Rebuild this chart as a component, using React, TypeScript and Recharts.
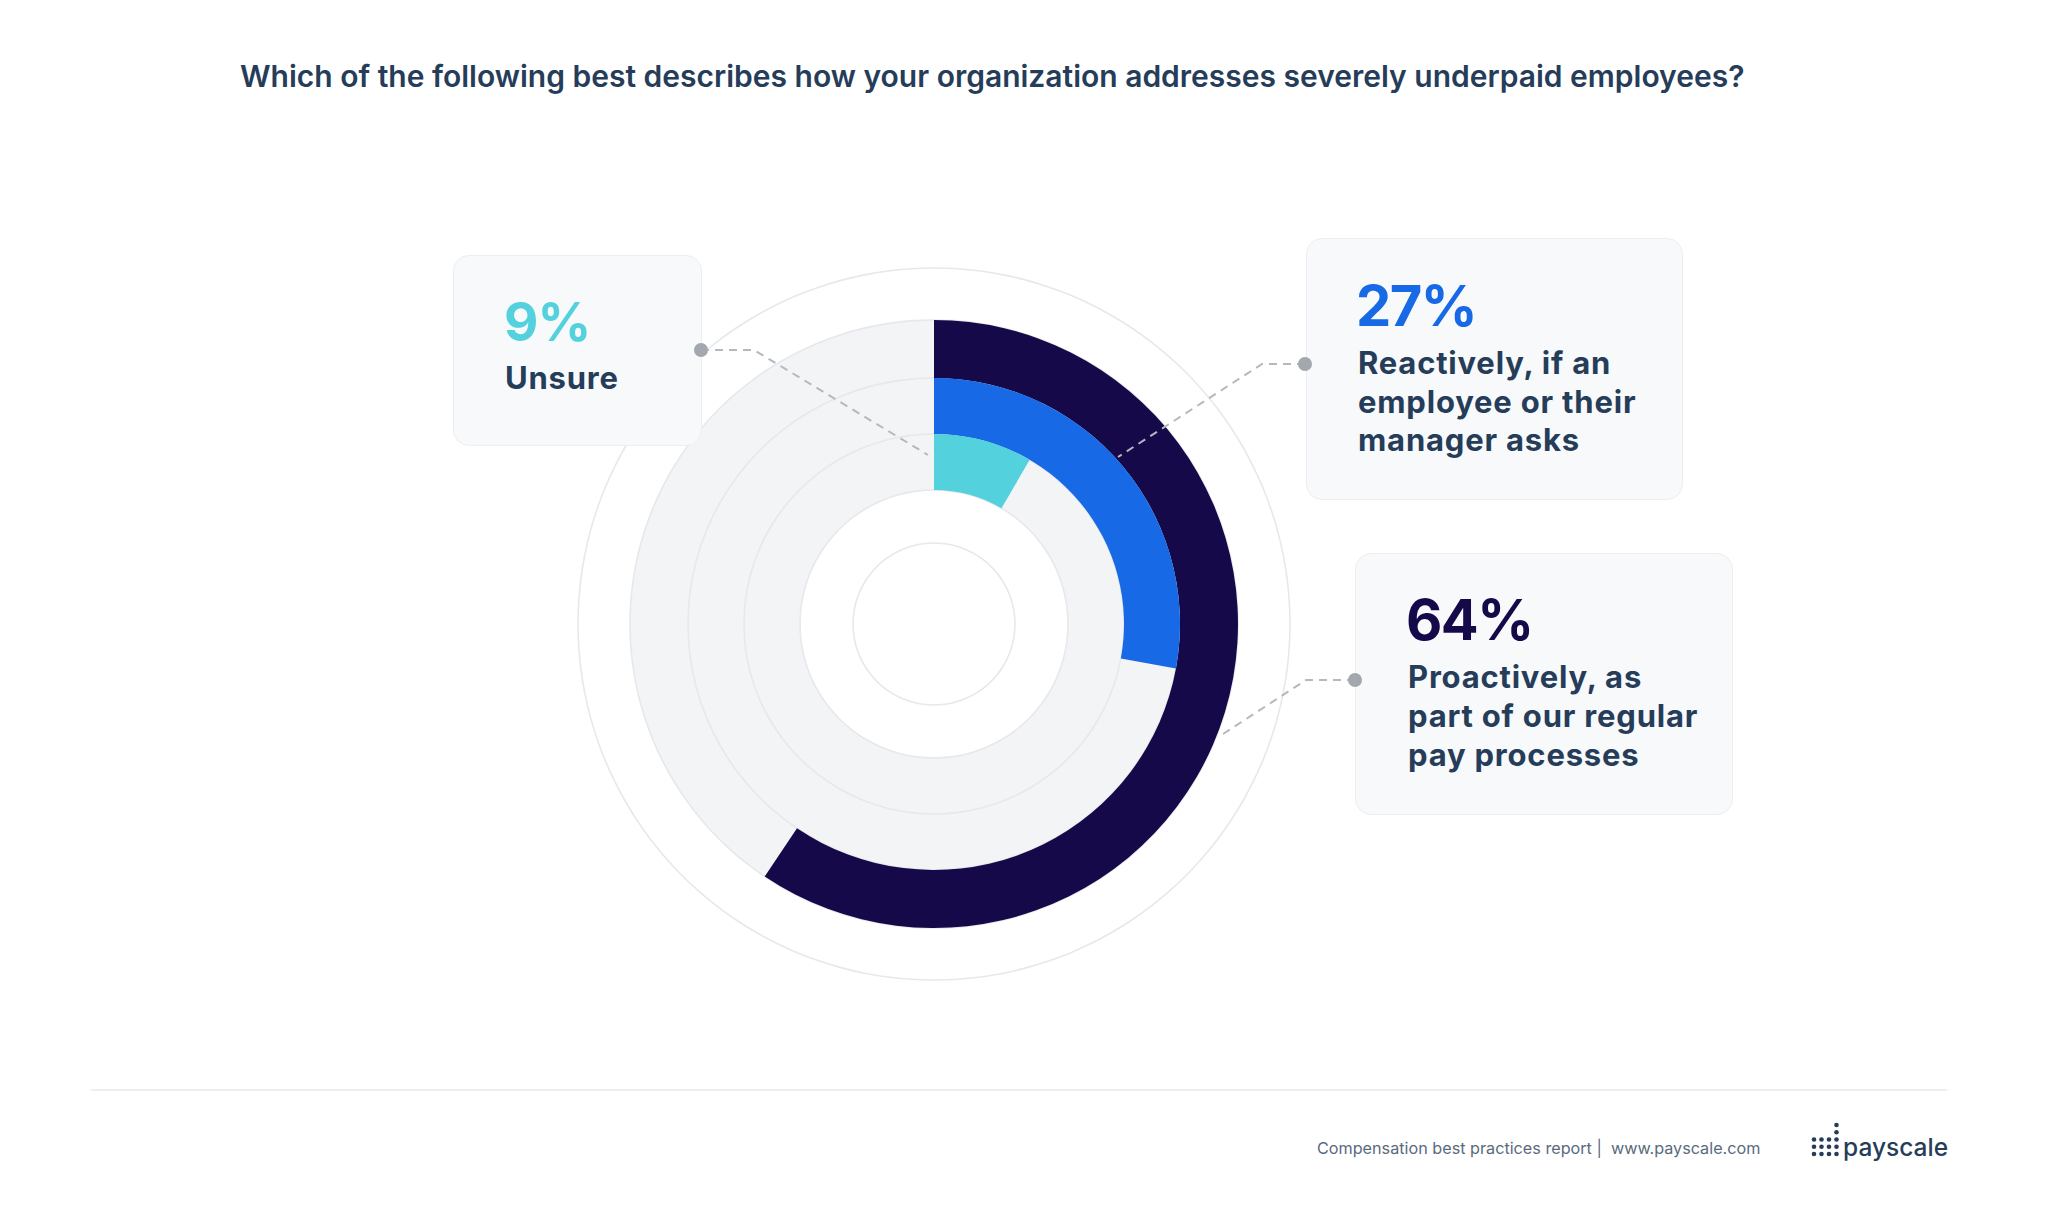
import { PieChart, Pie, Cell } from "recharts";

const categories = [
  "Proactively, as part of our regular pay processes",
  "Reactively, if an employee or their manager asks",
  "Unsure",
];
const shareLabels = ["64%", "27%", "9%"];
// how far round each ring is filled in the picture, in % of a full turn
const sweeps = [59.4, 27.9, 8.4];

const ringColors = ["#16094a", "#1769e6", "#53d2de"];
const ringRadii = [
  [246, 304],
  [190, 246],
  [134, 190],
];
const guideRadii = [81, 134, 190, 246, 304, 356];

const CX = 934;
const CY = 624;
const FONT = "Inter, 'Noto Sans', sans-serif";
const TEXT = "#263d5a";

const full = [{ value: 1 }];

const ringData = sweeps.map((s, i) => [
  { name: categories[i], value: s },
  { name: "rest", value: 100 - s },
]);

// callout boxes: box rect, where the % and the label go, and the leader line
const callouts = [
  {
    box: { left: 1355, top: 553, width: 378, height: 262 },
    pct: { left: 1406, top: 592, size: 56, ls: -1.5 },
    label: { left: 1408, top: 657, size: 31, lh: 39 },
    lines: ["Proactively, as", "part of our regular", "pay processes"],
    path: "M1355 680 L1306 680 L1220 736",
    dot: [1355, 680],
  },
  {
    box: { left: 1306, top: 238, width: 377, height: 262 },
    pct: { left: 1356, top: 278, size: 56, ls: -1.5 },
    label: { left: 1358, top: 344, size: 31, lh: 38.5 },
    lines: ["Reactively, if an", "employee or their", "manager asks"],
    path: "M1305 364 L1262 364 L1118 457",
    dot: [1305, 364],
  },
  {
    box: { left: 453, top: 255, width: 249, height: 191 },
    pct: { left: 504, top: 296, size: 53, ls: -1 },
    label: { left: 505, top: 362, size: 31, lh: 31 },
    lines: ["Unsure"],
    path: "M701 350 L754 350 L928 455",
    dot: [701, 350],
  },
];

function Logo() {
  const cols = [1814, 1821.5, 1829, 1836.5];
  const rows = [1139.5, 1146.8, 1154];
  const dots: number[][] = [];
  cols.forEach((x) => rows.forEach((y) => dots.push([x, y])));
  dots.push([1836.5, 1125]);
  dots.push([1836.5, 1132.2]);
  return (
    <g fill={TEXT}>
      {dots.map(([x, y], i) => (
        <circle key={i} cx={x} cy={y} r={2.3} />
      ))}
    </g>
  );
}

export default function App() {
  return (
    <div
      style={{
        position: "absolute",
        left: 0,
        top: 0,
        width: 2048,
        height: 1216,
        background: "#ffffff",
        fontFamily: FONT,
        overflow: "hidden",
      }}
    >
      <div
        style={{
          position: "absolute",
          left: 240,
          top: 61,
          fontSize: 30,
          lineHeight: "30px",
          fontWeight: 600,
          color: TEXT,
          whiteSpace: "nowrap",
        }}
      >
        Which of the following best describes how your organization addresses
        severely underpaid employees?
      </div>

      <div style={{ position: "absolute", left: 0, top: 0 }}>
        <PieChart
          width={2048}
          height={1216}
          margin={{ top: 0, right: 0, bottom: 0, left: 0 }}
        >
          <Pie
            data={full}
            dataKey="value"
            cx={CX}
            cy={CY}
            innerRadius={134}
            outerRadius={304}
            fill="#f3f4f6"
            stroke="none"
            isAnimationActive={false}
          />
          {guideRadii.map((r) => (
            <Pie
              key={"g" + r}
              data={full}
              dataKey="value"
              cx={CX}
              cy={CY}
              innerRadius={r - 0.8}
              outerRadius={r + 0.8}
              fill="#e6e8ec"
              stroke="none"
              isAnimationActive={false}
            />
          ))}
          {ringData.map((d, i) => (
            <Pie
              key={"r" + i}
              data={d}
              dataKey="value"
              cx={CX}
              cy={CY}
              innerRadius={ringRadii[i][0]}
              outerRadius={ringRadii[i][1]}
              startAngle={90}
              endAngle={-270}
              stroke="none"
              isAnimationActive={false}
            >
              <Cell fill={ringColors[i]} />
              <Cell fill="transparent" />
            </Pie>
          ))}
        </PieChart>
      </div>

      {callouts.map((c, i) => (
        <div
          key={i}
          style={{
            position: "absolute",
            left: c.box.left,
            top: c.box.top,
            width: c.box.width,
            height: c.box.height,
            boxSizing: "border-box",
            background: "#f8f9fa",
            border: "1.5px solid #eceef1",
            borderRadius: 16,
          }}
        />
      ))}
      {callouts.map((c, i) => (
        <div key={"t" + i}>
          <div
            style={{
              position: "absolute",
              left: c.pct.left,
              top: c.pct.top,
              fontSize: c.pct.size,
              lineHeight: c.pct.size + "px",
              letterSpacing: c.pct.ls,
              fontWeight: 700,
              color: ringColors[i],
              whiteSpace: "nowrap",
            }}
          >
            {shareLabels[i]}
          </div>
          <div
            style={{
              position: "absolute",
              left: c.label.left,
              top: c.label.top,
              fontSize: c.label.size,
              lineHeight: c.label.lh + "px",
              letterSpacing: 0.8,
              fontWeight: 700,
              color: TEXT,
              whiteSpace: "nowrap",
            }}
          >
            {c.lines.map((l) => (
              <div key={l}>{l}</div>
            ))}
          </div>
        </div>
      ))}

      <svg
        width={2048}
        height={1216}
        style={{ position: "absolute", left: 0, top: 0, pointerEvents: "none" }}
      >
        {callouts.map((c, i) => (
          <g key={i}>
            <path
              d={c.path}
              fill="none"
              stroke="#b4b8bf"
              strokeWidth={2}
              strokeDasharray="8 6"
            />
            <circle cx={c.dot[0]} cy={c.dot[1]} r={7} fill="#a3a7ae" />
          </g>
        ))}
        <line x1={91} y1={1090} x2={1947} y2={1090} stroke="#e6e8ec" strokeWidth={1.5} />
        <Logo />
        <text
          x={1843}
          y={1156}
          fontFamily={FONT}
          fontSize={24.5}
          fontWeight={500}
          fill={TEXT}
        >
          payscale
        </text>
        <text
          x={1317}
          y={1154}
          fontFamily={FONT}
          fontSize={16.2}
          fill="#5a6a7e"
          style={{ whiteSpace: "pre" }}
        >
          {"Compensation best practices report |  www.payscale.com"}
        </text>
      </svg>
    </div>
  );
}
